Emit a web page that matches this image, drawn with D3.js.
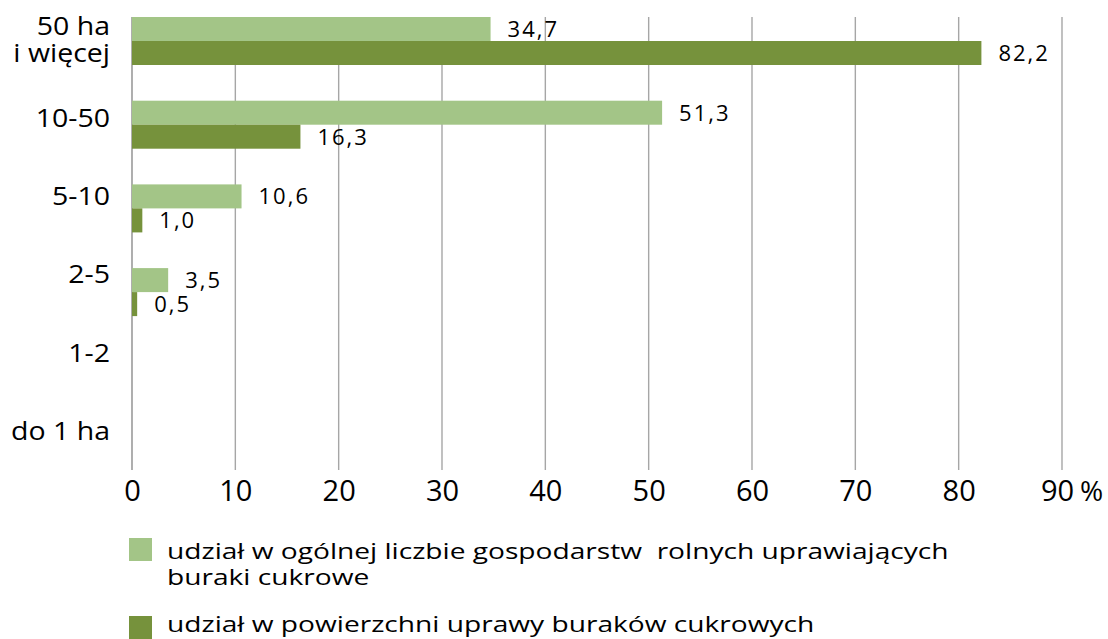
<!DOCTYPE html>
<html>
<head>
<meta charset="utf-8">
<script src="https://cdn.jsdelivr.net/npm/d3@7"></script>
<style>
  html, body { margin: 0; padding: 0; background: #fff; }
  svg { display: block; font-family: "Open Sans", "DejaVu Sans", sans-serif; }
</style>
</head>
<body>
<svg id="chart" width="1108" height="639"></svg>
<script>
// ---- data ----
const categories = ["50 ha|i więcej", "10-50", "5-10", "2-5", "1-2", "do 1 ha"];
const seriesNames = [
  "udział w ogólnej liczbie gospodarstw  rolnych uprawiających|buraki cukrowe",
  "udział w powierzchni uprawy buraków cukrowych"
];
const shareFarms = [34.7, 51.3, 10.6, 3.5, null, null];
const shareArea  = [82.2, 16.3, 1.0, 0.5, null, null];
const xTicks = [0, 10, 20, 30, 40, 50, 60, 70, 80, 90];
const xUnit = "%";
const colors = ["#A3C587", "#76923C"];

// ---- layout ----
const svg = d3.select("#chart");
const x = d3.scaleLinear().domain([0, 90]).range([132, 1062]);
const plotTop = 17, plotBottom = 470;

// category label positions
const yLabel = d3.scaleBand().domain(categories).range([0, 470]);
// bar group positions
const yBar = d3.scaleBand().domain(categories).range([17, 483.5]).paddingInner(0.4265).paddingOuter(0);
const ySub = d3.scaleBand().domain([0, 1]).range([0, yBar.bandwidth()]);

const fmt = v => d3.format(".1f")(v).replace(".", ",");

// gridlines
svg.append("g").selectAll("line").data(xTicks).join("line")
  .attr("x1", d => x(d)).attr("x2", d => x(d))
  .attr("y1", plotTop).attr("y2", plotBottom)
  .attr("stroke", "#A6A6A6").attr("stroke-width", d => d === 0 ? 1.8 : 1.4);

// bars
const series = [shareFarms, shareArea];
series.forEach((vals, si) => {
  const g = svg.append("g");
  const data = categories.map((c, i) => ({c, v: vals[i]})).filter(d => d.v != null);
  g.selectAll("rect").data(data).join("rect")
    .attr("x", x(0))
    .attr("y", d => yBar(d.c) + ySub(si))
    .attr("width", d => x(d.v) - x(0))
    .attr("height", ySub.bandwidth())
    .attr("fill", colors[si]);
  g.selectAll("text").data(data).join("text")
    .attr("x", d => x(d.v) + 17)
    .attr("y", d => yBar(d.c) + ySub(si) + ySub.bandwidth() / 2 + 8)
    .attr("font-size", 22)
    .attr("letter-spacing", 2)
    .attr("fill", "#000")
    .text(d => fmt(d.v));
});

// x axis labels
const xAxis = d3.axisBottom(x).tickValues(xTicks).tickSize(0).tickPadding(0)
  .tickFormat(d => String(d));
const ax = svg.append("g").attr("transform", `translate(0, 501)`).call(xAxis);
ax.select(".domain").remove();
ax.selectAll("text").attr("font-size", 29).attr("font-family", "Open Sans, sans-serif")
  .attr("fill", "#000").attr("dy", 0).attr("y", 0)
  .attr("dx", d => d === 90 ? -5 : 0);
svg.append("text").attr("x", x(90) + 18).attr("y", 501)
  .attr("font-size", 28).attr("fill", "#000").text(xUnit);

// y axis labels (horizontally widened like the source)
const yg = svg.append("g");
categories.forEach(c => {
  const lines = c.split("|");
  const cy = yLabel(c) + yLabel.bandwidth() / 2;
  const lh = 27;
  lines.forEach((ln, i) => {
    yg.append("text")
      .attr("transform", `translate(110, ${cy + 9 + (i - (lines.length - 1) / 2) * lh}) scale(1.14, 1)`)
      .attr("text-anchor", "end").attr("font-size", 25).attr("fill", "#000")
      .text(ln);
  });
});

// legend
const lg = svg.append("g");
const legendRows = [538, 616];
const legendBaselines = [559, 632];
seriesNames.forEach((name, i) => {
  lg.append("rect").attr("x", 129).attr("y", legendRows[i]).attr("width", 23).attr("height", 23)
    .attr("fill", colors[i]);
  const lines = name.split("|");
  lines.forEach((ln, j) => {
    lg.append("text")
      .attr("transform", `translate(167, ${legendBaselines[i] + j * 25.5}) scale(1.34, 1)`)
      .attr("font-size", 21).attr("fill", "#000")
      .style("white-space", "pre")
      .text(ln);
  });
});
</script>
</body>
</html>
